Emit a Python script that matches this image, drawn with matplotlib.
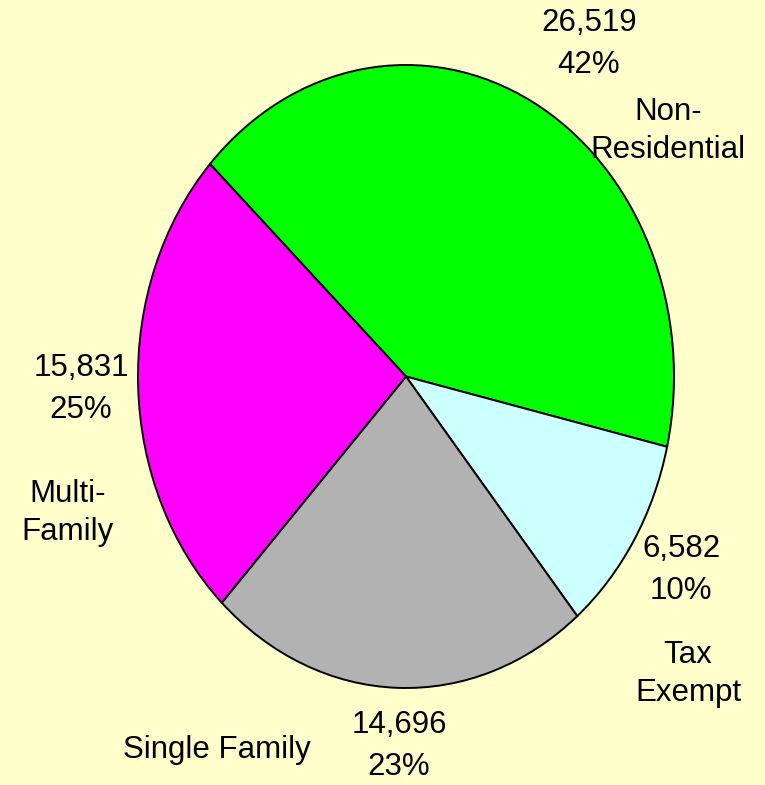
import matplotlib
matplotlib.use("Agg")
import matplotlib.pyplot as plt

# slices in drawing order (clockwise from upper left)
categories = ["Non-\nResidential", "Tax\nExempt", "Single Family", "Multi-\nFamily"]
values = [26519, 6582, 14696, 15831]
colors = ["#00FF00", "#CCFFFF", "#B2B2B2", "#FF00FF"]

# label positions in figure pixels (value/percent block, category name)
value_pos = [(589, 44), (681, 570), (399, 746), (81, 389)]
name_pos = [(668, 131), (688, 674), (217, 750), (68, 513)]

W, H = 765, 785
fig = plt.figure(figsize=(W / 100, H / 100), dpi=100)
fig.patch.set_facecolor("#FFFFCC")
plt.rcParams["font.family"] = ["Liberation Sans", "DejaVu Sans"]

ax = fig.add_axes([138 / W, (H - 688) / H, 536 / W, 623 / H])
ax.pie(values, colors=colors, startangle=137, counterclock=False,
       wedgeprops=dict(edgecolor="black", linewidth=1.4))
ax.set_aspect("auto")
ax.set_xlim(-1, 1)
ax.set_ylim(-1, 1)
ax.axis("off")

total = sum(values)
for v, (x, y) in zip(values, value_pos):
    txt = f"{v:,}\n{round(100 * v / total)}%"
    fig.text(x / W, 1 - y / H, txt, ha="center", va="center",
             fontsize=22.5, linespacing=1.55)
for name, (x, y) in zip(categories, name_pos):
    fig.text(x / W, 1 - y / H, name, ha="center", va="center",
             fontsize=22.5, linespacing=1.32)

fig.savefig("out.png", dpi=100, facecolor=fig.get_facecolor())
